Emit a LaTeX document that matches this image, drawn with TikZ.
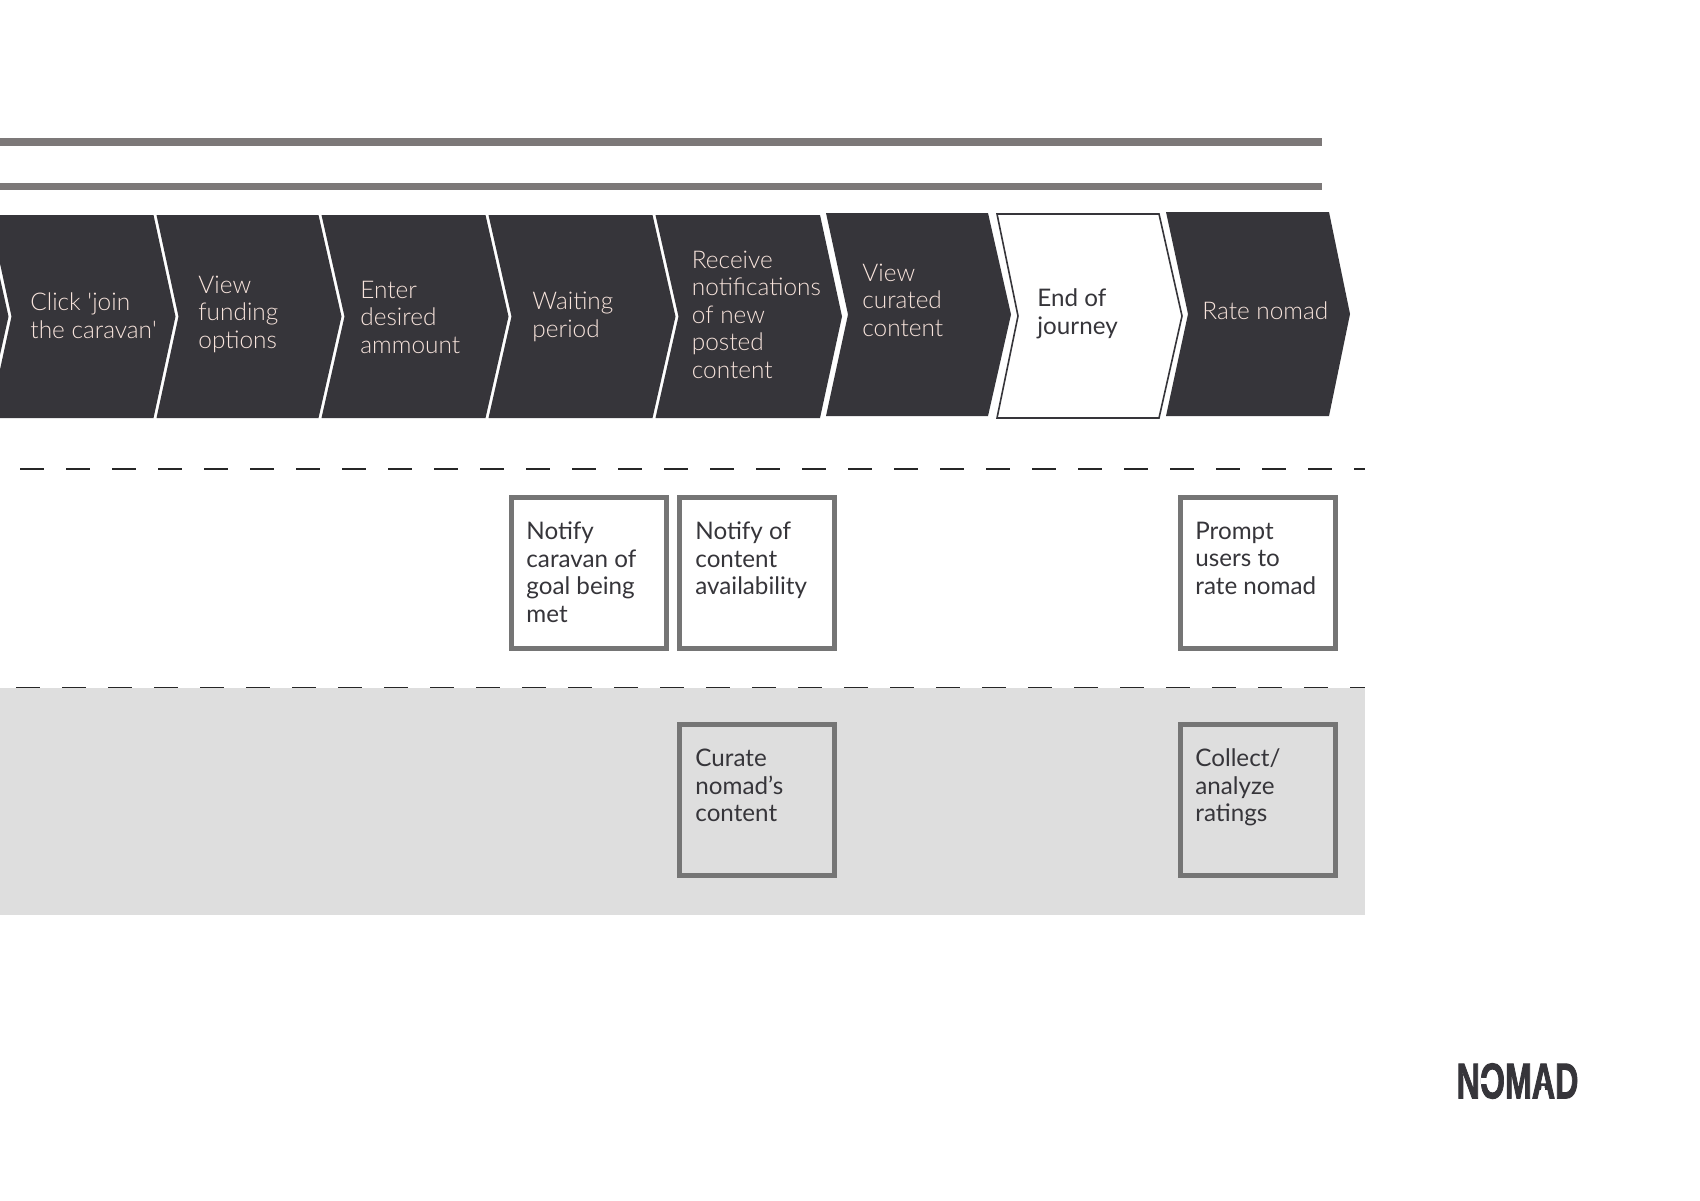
\documentclass[tikz,border=0pt]{standalone}
\usepackage{fontspec}
\setmainfont{Lato}
\newfontfamily\lightf{Lato Light}
\newfontfamily\logof{Liberation Sans Bold}[FakeBold=2.2]
\definecolor{darkfill}{HTML}{36353A}
\definecolor{lighttext}{HTML}{F8E4DC}
\definecolor{bargrey}{HTML}{7C7878}
\definecolor{boxgrey}{HTML}{757575}
\definecolor{bandgrey}{HTML}{DEDEDE}
\tikzset{
  x=0.5pt,y=-0.5pt,
  txt/.style={anchor=north west,inner sep=0pt,align=left,font=\fontsize{12.1}{13.75}\selectfont,text=darkfill},
  lighttxt/.style={txt,font=\lightf\fontsize{12.2}{13.75}\selectfont,text=lighttext},
  boxed/.style={draw=boxgrey,line width=2.5pt,minimum width=77.5pt,minimum height=75.5pt,anchor=north west,inner sep=0pt},
  bar/.style={draw=bargrey,line width=3.8pt},
  dashline/.style={draw=black!85,line width=0.6pt,dash pattern=on 12pt off 11pt},
}
\newcommand{\chev}[7]{% lefttop notch righttop tip top bottom style
  \path[#7] (#1,#5) -- (#3,#5) -- (#4,{(#5+#6)/2}) -- (#3,#6) -- (#1,#6) -- (#2,{(#5+#6)/2}) -- cycle;}
\begin{document}
\begin{tikzpicture}
\clip (0,0) rectangle (1700,1200);
\fill[white] (0,0) rectangle (1700,1200);
\fill[bandgrey] (0,688) rectangle (1365,915);
\coordinate (bar1a) at (0,142); \coordinate (bar1b) at (1322,142);
\coordinate (bar2a) at (0,186.5); \coordinate (bar2b) at (1322,186.5);
\draw[bar] (bar1a) -- (bar1b);
\draw[bar] (bar2a) -- (bar2b);
\chev{-182}{-160}{-14}{8.5}{215}{418}{fill=darkfill}
\chev{-10.5}{11.5}{153.5}{175.5}{215}{418}{fill=darkfill}
\chev{156.5}{178.5}{318.5}{341.5}{215}{418}{fill=darkfill}
\chev{321.5}{344.5}{485.5}{508.5}{215}{418}{fill=darkfill}
\chev{488.5}{511.5}{652.5}{675.5}{215}{418}{fill=darkfill}
\chev{655.5}{678.5}{820}{842}{215}{418}{fill=darkfill}
\chev{826}{848}{988}{1011}{213}{416}{fill=darkfill}
\chev{997}{1018}{1159}{1182}{214}{418}{fill=white,draw=darkfill,line width=0.8pt}
\chev{1166}{1188}{1329}{1350}{212}{416}{fill=darkfill}
\coordinate (d1a) at (20,469); \coordinate (d1b) at (1365,469);
\coordinate (d2a) at (16,687.5); \coordinate (d2b) at (1365,687.5);
\draw[dashline] (d1a) -- (d1b);
\draw[dashline] (d2a) -- (d2b);
\node[lighttxt] (t1) at (30,292.5) {Click 'join\\the caravan'};
\node[lighttxt] (t2) at (198,275.5) {View\\funding\\options};
\node[lighttxt] (t3) at (360,280.5) {Enter\\desired\\ammount};
\node[lighttxt] (t4) at (532,292) {Waiting\\period};
\node[lighttxt] (t5) at (691.5,250.5) {Receive\\notifications\\of new\\posted\\content};
\node[lighttxt] (t6) at (862,263.5) {View\\curated\\content};
\node[txt] (t7) at (1037,288.5) {End of\\journey};
\node[lighttxt] (t8) at (1202,301.5) {Rate nomad};
\node[boxed] (b1) at (509,495) {};
\node[boxed] (b2) at (677,495) {};
\node[boxed] (b3) at (1178,495) {};
\node[boxed] (b4) at (677,722) {};
\node[boxed] (b5) at (1178,722) {};
\node[txt] (l1) at (526,521.5) {Notify\\caravan of\\goal being\\met};
\node[txt] (l2) at (695,521.5) {Notify of\\content\\availability};
\node[txt] (l3) at (1195,521.5) {Prompt\\users to\\rate nomad};
\node[txt] (l4) at (695,749) {Curate\\nomad's\\content};
\node[txt] (l5) at (1195,748.5) {Collect/\\analyze\\ratings};
\node[anchor=center,inner sep=0pt,text=darkfill] (logo) at (1517.5,1081) {\logof\fontsize{25}{25}\selectfont\scalebox{0.645}[1]{NOMAD}};
\fill[white] (1481,1078) rectangle (1490,1084);
\fill[white] (1541.5,1086) -- (1544.5,1086) -- (1546,1100) -- (1540,1100) -- cycle;
\end{tikzpicture}
\end{document}
